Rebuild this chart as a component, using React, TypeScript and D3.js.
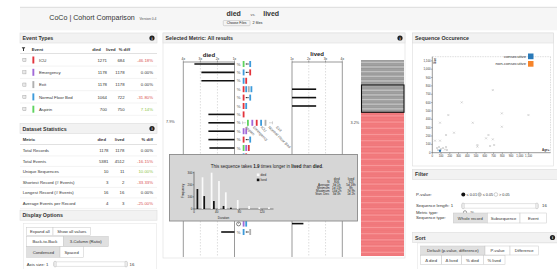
import React from 'react';
import * as d3 from 'd3';

const FONT = 'Liberation Sans, Arial, Helvetica, sans-serif';

// event types table
const eventNames = ['ICU', 'Emergency', 'Exit', 'Normal Floor Bed', 'Aspirin'];
const eventCodes = ['I', 'M', 'X', 'N', 'A'];
const eventColors = ['#e3343c', '#a26ad8', '#b0b0b0', '#3d9bdb', '#5fd35f'];
const eventDied = [1271, 1178, 1178, 1064, 700];
const eventLived = [684, 1178, 1178, 722, 750];
const eventDiff = [-46.18, 0, 0, -31.8, 7.14];

// dataset statistics
const statNames = ['Total Records', 'Total Events', 'Unique Sequences', 'Shortest Record (# Events)', 'Longest Record (# Events)', 'Average Events per Record'];
const statDied = [1178, 5381, 10, 3, 16, 4];
const statLived = [1178, 4512, 11, 2, 16, 3];
const statDiff = [0, -16.15, 10, -33.33, 0, -25];

// selected metric rows (slot = row position in the list)
const seqSlots = [0, 1, 2, 3, 4, 5, 6, 7, 8, 9, 10, 11, 19, 20];
const seqMetric = ['%', '%', '%', '%', '%', '%', '%', '%', '%', '%', '%', 'time', 'time', '%'];
const seqDied = [3.35, 2.94, 2.94, null, null, null, 2.53, 2.53, 2.53, 2.53, 2.47, null, null, 1.78];
const seqLived = [null, null, null, 2.44, 2.44, 2.44, null, null, null, null, null, 1.88, 1.68, null];
const seqGlyphs = [
  ['A', '..', 'N'], ['N', '..', 'I'], ['N', 'I'], ['I', 'N', 'X', 'N'], ['I', '..', 'N'], ['I', 'N'],
  ['I'], ['A', 'M', 'I', 'N', 'X'], ['M', 'M'], ['I', '..', 'N'], ['A', 'M', 'I'], ['N', 'I'], ['M', 'N'], ['N', '..', 'X'],
];
const expandedRow = 7;
const expandedLabels = ['Aspirin', 'Emergency', 'ICU', 'Normal Floor Bed', 'Exit'];
const ratioTicks = [1, 2, 3, 4];

// histogram in tooltip
const histDiedDur = [15, 31, 44, 56, 77, 97, 115, 132];
const histDiedFreq = [262, 300, 231, 138, 74, 25, 14, 14];
const histLivedDur = [6, 18, 35, 52, 65];
const histLivedFreq = [165, 107, 66, 25, 11];
const tipStatNames = ['N', 'Average', 'Minimum', 'Maximum', 'Stan. Dev.'];
const tipStatDied = ['806', '3d 1h', '1d 13h', '14d 2h', '3d 3h'];
const tipStatLived = ['323', '5d 18h', '8h', '7d 9h', '1d 2h'];

// sequence occurrence scatter
const occAge = [31, 88, 88, 157, 183, 248, 336, 462, 515, 515, 614, 641, 660, 691, 691, 706, 794, 794, 1098, 54, 77, 100, 122, 145, 157, 65, 168];
const occSize = [144, 359, 144, 212, 451, 239, 603, 359, 92, 72, 172, 212, 80, 750, 160, 92, 471, 311, 451, 56, 68, 44, 56, 38, 68, 32, 32];
const consecAge = [88];
const consecSize = [24];

const diffColor = (v: number) => (v < 0 ? '#d9534f' : v > 0 ? '#8cc63f' : '#333');
const fmtPct = (v: number) => `${v.toFixed(2)}%`;

function PanelHead({ x, y, w, title, info = false }: any) {
  return (
    <g>
      <rect x={x} y={y} width={w} height={10} fill="#f2f2f2" stroke="#dddddd" strokeWidth={0.6} />
      <text x={x + 2.5} y={y + 7} fontSize={5.3} fontWeight="bold" fill="#333">{title}</text>
      {info && (
        <g>
          <circle cx={x + w - 5} cy={y + 5} r={2.6} fill="#222" />
          <text x={x + w - 5} y={y + 6.6} fontSize={3.8} fill="#fff" fontWeight="bold" textAnchor="middle">i</text>
        </g>
      )}
    </g>
  );
}

function Btn({ x, y, w, h, label, active = false }: any) {
  return (
    <g>
      <rect x={x} y={y} width={w} height={h} fill={active ? '#e0e0e0' : '#fff'} stroke="#c8c8c8" strokeWidth={0.5} />
      <text x={x + w / 2} y={y + h / 2 + 1.5} fontSize={4.2} fill="#333" textAnchor="middle">{label}</text>
    </g>
  );
}

function Glyph({ x, y, tokens, wide }: any) {
  let cx = x;
  const out: any[] = [];
  tokens.forEach((t: string, i: number) => {
    if (t === '..') {
      out.push(<rect key={`a${i}`} x={cx + 0.5} y={y - 0.6} width={1.1} height={1.2} fill="#222" />);
      out.push(<rect key={`b${i}`} x={cx + 2.1} y={y - 0.6} width={1.1} height={1.2} fill="#222" />);
      cx += 4;
    } else {
      const c = eventColors[eventCodes.indexOf(t)];
      out.push(<rect key={i} x={cx} y={y - 3} width={1.8} height={6} fill={c} />);
      cx += wide ? 4.4 : 2.6;
    }
  });
  return <g>{out}</g>;
}

export default function App() {
  const evY = d3.scaleLinear().domain([0, 4]).range([60, 109.2]);
  const stY = d3.scaleLinear().domain([0, 5]).range([150.5, 203]);
  const rowY = d3.scaleLinear().domain([0, 20]).range([64, 232]);
  const diedX = d3.scaleLinear().domain([1, 4]).range([234.5, 183.3]);
  const livedX = d3.scaleLinear().domain([1, 4]).range([292, 342.3]);

  const hx = d3.scaleLinear().domain([0, 140]).range([194, 273.5]);
  const hy = d3.scaleLinear().domain([0, 300]).range([209, 172.7]);

  const sx = d3.scaleLinear().domain([0, 1350]).range([432.3, 550.5]);
  const sy = d3.scaleLinear().domain([0, 1150]).range([152.7, 56.7]);
  const fmtK = d3.format(',');

  const axTop = 62;
  const axBot = 257;

  return (
    <svg width={557} height={269} style={{ position: 'absolute', left: 0, top: 0, fontFamily: FONT, background: '#fff' }}>
      {/* header */}
      <rect x={20} y={7.3} width={540} height={23} fill="#f6f6f6" />
      <line x1={20} x2={557} y1={7.3} y2={7.3} stroke="#cfcfcf" strokeWidth={0.7} />
      <text x={49.3} y={19.6} fontSize={7.6} fill="#333" textLength={85.5} lengthAdjust="spacingAndGlyphs">CoCo | Cohort Comparison</text>
      <text x={139.5} y={19.6} fontSize={3.4} fill="#555">Version 0.4</text>
      <text x={226.5} y={15.5} fontSize={7} fontWeight="bold" fill="#333">died</text>
      <text x={250.5} y={15.5} fontSize={3.8} fill="#555">vs.</text>
      <text x={263.2} y={15.5} fontSize={7} fontWeight="bold" fill="#333">lived</text>
      <rect x={223.3} y={20.5} width={26.7} height={5.2} rx={0.8} fill="#f4f4f4" stroke="#aaa" strokeWidth={0.4} />
      <text x={236.6} y={24.3} fontSize={3.4} textAnchor="middle" fill="#222">Choose Files</text>
      <text x={252.5} y={24.4} fontSize={3.8} fill="#222">2 files</text>

      {/* left panel: event types */}
      <PanelHead x={20} y={33} w={137} title="Event Types" info />
      <path d="M21.7,47.2 L25.3,47.2 L24,49 L24,51 L23,51 L23,49 Z" fill="#333" />
      <text x={31.7} y={50.6} fontSize={4.2} fontWeight="bold" fill="#333">Event</text>
      <text x={92.3} y={50.6} fontSize={4.2} fontWeight="bold" fill="#333">died</text>
      <text x={106} y={50.6} fontSize={4.2} fontWeight="bold" fill="#333">lived</text>
      <text x={118.7} y={50.6} fontSize={4.2} fontWeight="bold" fill="#333">% diff</text>
      <line x1={20} x2={157} y1={53.5} y2={53.5} stroke="#ccc" strokeWidth={0.6} />
      {eventNames.map((n, i) => (
        <g key={n}>
          <rect x={22.8} y={evY(i) - 1.6} width={3.2} height={3.2} fill="#e8e8e8" stroke="#999" strokeWidth={0.4} />
          <rect x={32.4} y={evY(i) - 3.5} width={1.9} height={7} fill={eventColors[i]} />
          <text x={39} y={evY(i) + 1.6} fontSize={4.3} fill="#333">{n}</text>
          <text x={107} y={evY(i) + 1.6} fontSize={4.3} fill="#333" textAnchor="end">{eventDied[i]}</text>
          <text x={124.6} y={evY(i) + 1.6} fontSize={4.3} fill="#333" textAnchor="end">{eventLived[i]}</text>
          <text x={153} y={evY(i) + 1.6} fontSize={4.3} fill={diffColor(eventDiff[i])} textAnchor="end">{fmtPct(eventDiff[i])}</text>
          <line x1={20} x2={157} y1={evY(i) + 6.1} y2={evY(i) + 6.1} stroke="#e6e6e6" strokeWidth={0.5} />
        </g>
      ))}

      {/* dataset statistics */}
      <PanelHead x={20} y={123.5} w={137} title="Dataset Statistics" info />
      <text x={22.7} y={140.7} fontSize={4.2} fontWeight="bold" fill="#333">Metric</text>
      <text x={106} y={140.7} fontSize={4.2} fontWeight="bold" fill="#333" textAnchor="end">died</text>
      <text x={124.4} y={140.7} fontSize={4.2} fontWeight="bold" fill="#333" textAnchor="end">lived</text>
      <text x={153} y={140.7} fontSize={4.2} fontWeight="bold" fill="#333" textAnchor="end">% diff</text>
      <line x1={20} x2={157} y1={144.5} y2={144.5} stroke="#ccc" strokeWidth={0.6} />
      {statNames.map((n, i) => (
        <g key={n}>
          <text x={22.7} y={stY(i) + 1.5} fontSize={4.3} fill="#333">{n}</text>
          <text x={108.5} y={stY(i) + 1.5} fontSize={4.3} fill="#333" textAnchor="end">{statDied[i]}</text>
          <text x={124.4} y={stY(i) + 1.5} fontSize={4.3} fill="#333" textAnchor="end">{statLived[i]}</text>
          <text x={153} y={stY(i) + 1.5} fontSize={4.3} fill={diffColor(statDiff[i])} textAnchor="end">{fmtPct(statDiff[i])}</text>
          <line x1={20} x2={157} y1={stY(i) + 5.4} y2={stY(i) + 5.4} stroke="#e6e6e6" strokeWidth={0.5} />
        </g>
      ))}

      {/* display options */}
      <PanelHead x={20} y={210.2} w={137} title="Display Options" />
      <rect x={23.6} y={223.3} width={133} height={50} fill="none" stroke="#e2e2e2" strokeWidth={0.5} />
      <Btn x={26.7} y={227.3} w={26.3} h={8} label="Expand all" />
      <Btn x={53} y={227.3} w={37.7} h={8} label="Show all values" />
      <Btn x={26.7} y={236.4} w={36.6} h={10.3} label="Back-to-Back" />
      <Btn x={63.3} y={236.4} w={45} h={10.3} label="3-Column (Ratio)" active />
      <Btn x={26.7} y={246.7} w={33.3} h={10.6} label="Condensed" active />
      <Btn x={60} y={246.7} w={23.3} h={10.6} label="Spaced" />
      <text x={26.7} y={265.5} fontSize={4.3} fill="#333">Axis size: 1</text>
      <rect x={53.5} y={261.8} width={74} height={4.6} rx={1.5} fill="#fff" stroke="#c8c8c8" strokeWidth={0.5} />
      <rect x={54} y={261.4} width={2.2} height={5.4} rx={0.6} fill="#f4f4f4" stroke="#aaa" strokeWidth={0.4} />
      <rect x={125} y={261.4} width={2.2} height={5.4} rx={0.6} fill="#f4f4f4" stroke="#aaa" strokeWidth={0.4} />
      <text x={129.5} y={265.5} fontSize={4.3} fill="#333">16</text>

      {/* middle panel */}
      <rect x={163} y={33} width={242} height={225} fill="#fff" stroke="#dddddd" strokeWidth={0.6} />
      <PanelHead x={163} y={33} w={242} title="Selected Metric: All results" info />
      <text x={diedX(2.5)} y={57} fontSize={6} fontWeight="bold" textAnchor="middle" fill="#222">died</text>
      <text x={livedX(2.5)} y={56} fontSize={6} fontWeight="bold" textAnchor="middle" fill="#222">lived</text>
      {ratioTicks.map((t) => (
        <g key={t}>
          <text x={diedX(t)} y={59.6} fontSize={3.3} textAnchor="middle" fill="#333">{`${t}x`}</text>
          <line x1={diedX(t)} x2={diedX(t)} y1={60.4} y2={axTop} stroke="#333" strokeWidth={0.4} />
          <text x={livedX(t)} y={59.6} fontSize={3.3} textAnchor="middle" fill="#333">{`${t}x`}</text>
          <line x1={livedX(t)} x2={livedX(t)} y1={60.4} y2={axTop} stroke="#333" strokeWidth={0.4} />
          {t === 1 || t === 4 ? (
            <>
              <line x1={diedX(t)} x2={diedX(t)} y1={axTop} y2={axBot} stroke="#555" strokeWidth={0.6} />
              <line x1={livedX(t)} x2={livedX(t)} y1={axTop} y2={axBot} stroke="#555" strokeWidth={0.6} />
            </>
          ) : (
            <>
              <line x1={diedX(t)} x2={diedX(t)} y1={axTop} y2={axBot} stroke="#bbb" strokeWidth={0.5} strokeDasharray="1.5,1.5" />
              <line x1={livedX(t)} x2={livedX(t)} y1={axTop} y2={axBot} stroke="#bbb" strokeWidth={0.5} strokeDasharray="1.5,1.5" />
            </>
          )}
        </g>
      ))}
      <line x1={diedX(4)} x2={diedX(1)} y1={axTop} y2={axTop} stroke="#555" strokeWidth={0.6} />
      <line x1={livedX(1)} x2={livedX(4)} y1={axTop} y2={axTop} stroke="#555" strokeWidth={0.6} />

      {seqSlots.map((s, i) => {
        const y = rowY(s);
        const d = seqDied[i];
        const l = seqLived[i];
        return (
          <g key={s}>
            {d != null && <line x1={diedX(d)} x2={diedX(1)} y1={y} y2={y} stroke="#111" strokeWidth={1.6} />}
            {l != null && <line x1={livedX(1)} x2={livedX(l)} y1={y} y2={y} stroke="#111" strokeWidth={1.6} />}
            {seqMetric[i] === '%' ? (
              <text x={238.6} y={y + 1.5} fontSize={4.2} textAnchor="middle" fill="#555">%</text>
            ) : (
              <g>
                <circle cx={238.6} cy={y + 0.3} r={2} fill="none" stroke="#333" strokeWidth={0.6} />
                <line x1={238.6} x2={238.6} y1={y + 0.3} y2={y - 1.1} stroke="#333" strokeWidth={0.5} />
              </g>
            )}
            {s === expandedRow ? (
              <g>
                <line x1={242.5} x2={242.5} y1={y - 1.5} y2={y + 1.5} stroke="#999" strokeWidth={0.4} />
                <line x1={242.5} x2={246} y1={y} y2={y} stroke="#999" strokeWidth={0.4} />
                <Glyph x={247} y={y} tokens={seqGlyphs[i]} wide />
                <line x1={269} x2={272.5} y1={y} y2={y} stroke="#999" strokeWidth={0.4} />
                <line x1={272.5} x2={272.5} y1={y - 1.5} y2={y + 1.5} stroke="#999" strokeWidth={0.4} />
              </g>
            ) : (
              <Glyph x={242.7} y={y} tokens={seqGlyphs[i]} />
            )}
          </g>
        );
      })}
      {expandedLabels.map((n, i) => (
        <text key={n} x={0} y={0} fontSize={3.8} fill="#555" transform={`translate(${245 + i * 7.7},${127.5}) rotate(45)`}>{n}</text>
      ))}
      <text x={166} y={123} fontSize={3.8} fill="#444">7.9%</text>
      <text x={350.5} y={124} fontSize={3.8} fill="#444">3.2%</text>

      {/* stripe column */}
      <rect x={361} y={60} width={43} height={52} fill="#a8a8a8" />
      {d3.range(60.8, 112, 1.55).map((y, i) => (
        <line key={`g${i}`} x1={361} x2={404} y1={y} y2={y} stroke={i % 3 === 1 ? '#e2e2e2' : '#8a8a8a'} strokeWidth={0.5} />
      ))}
      <rect x={361} y={112} width={43} height={144} fill="#f47f82" />
      {d3.range(112.8, 256, 1.55).map((y, i) => (
        <line key={`r${i}`} x1={361} x2={404} y1={y} y2={y} stroke={i % 4 === 2 ? '#fbb' : '#e86a6e'} strokeWidth={0.4} />
      ))}
      <rect x={361.5} y={85} width={42.5} height={27.3} fill="none" stroke="#111" strokeWidth={1.1} />

      {/* tooltip */}
      <rect x={169.5} y={154.5} width={188} height={66.5} fill="#d6d6d6" stroke="#8a8a8a" strokeWidth={0.9} />
      <text x={267} y={168.4} fontSize={4.5} textAnchor="middle" fill="#222">
        This sequence takes <tspan fontWeight="bold">1.9</tspan> times longer in <tspan fontWeight="bold">lived</tspan> than <tspan fontWeight="bold">died</tspan>.
      </text>
      <line x1={hx(0)} x2={hx(0)} y1={hy(300) - 1} y2={hy(0)} stroke="#222" strokeWidth={0.5} />
      <line x1={hx(0)} x2={hx(140)} y1={hy(0)} y2={hy(0)} stroke="#222" strokeWidth={0.5} />
      {[0, 100, 200, 300].map((t) => (
        <g key={t}>
          <line x1={hx(0) - 1.2} x2={hx(0)} y1={hy(t)} y2={hy(t)} stroke="#222" strokeWidth={0.4} />
          <text x={hx(0) - 1.6} y={hy(t) + 1} fontSize={2.9} textAnchor="end" fill="#222">{t}</text>
        </g>
      ))}
      {[0, 40, 80, 120].map((t) => (
        <g key={t}>
          <line x1={hx(t)} x2={hx(t)} y1={hy(0)} y2={hy(0) + 1.2} stroke="#222" strokeWidth={0.4} />
          <text x={hx(t)} y={hy(0) + 4.3} fontSize={2.9} textAnchor="middle" fill="#222">{t}</text>
        </g>
      ))}
      <text x={0} y={0} fontSize={3} textAnchor="middle" fill="#222" transform={`translate(184,${hy(150)}) rotate(-90)`}>Frequency</text>
      <text x={hx(52)} y={218.6} fontSize={3} textAnchor="middle" fill="#222">Duration</text>
      {histDiedDur.map((d, i) => (
        <rect key={`hd${i}`} x={hx(d) - 0.85} y={hy(histDiedFreq[i])} width={1.7} height={hy(0) - hy(histDiedFreq[i])} fill="#fafafa" />
      ))}
      {histLivedDur.map((d, i) => (
        <rect key={`hl${i}`} x={hx(d) - 0.85} y={hy(histLivedFreq[i])} width={1.7} height={hy(0) - hy(histLivedFreq[i])} fill="#111" />
      ))}
      <rect x={256.8} y={173.5} width={2.6} height={2.6} fill="#fafafa" />
      <text x={260.5} y={175.9} fontSize={3} fill="#222">died</text>
      <rect x={256.8} y={178.6} width={2.6} height={2.6} fill="#111" />
      <text x={260.5} y={181} fontSize={3} fill="#222">lived</text>
      <text x={336.7} y={180} fontSize={3.1} textAnchor="middle" fill="#222">died</text>
      <text x={351} y={180} fontSize={3.1} textAnchor="middle" fill="#222">lived</text>
      {tipStatNames.map((n, i) => (
        <g key={n}>
          <text x={329.5} y={183 + i * 3} fontSize={3.1} textAnchor="end" fill="#222">{n}</text>
          <text x={336.7} y={183 + i * 3} fontSize={3.1} textAnchor="middle" fill="#222">{tipStatDied[i]}</text>
          <text x={351} y={183 + i * 3} fontSize={3.1} textAnchor="middle" fill="#222">{tipStatLived[i]}</text>
        </g>
      ))}

      {/* right panel: sequence occurrence */}
      <rect x={412.5} y={33} width={141} height={133} fill="#fff" stroke="#dddddd" strokeWidth={0.6} />
      <PanelHead x={412.5} y={33} w={141} title="Sequence Occurence" />
      <line x1={sx(0)} x2={sx(1350)} y1={sy(1150)} y2={sy(1150)} stroke="#bbb" strokeWidth={0.5} strokeDasharray="1.5,1" />
      <line x1={sx(1350)} x2={sx(1350)} y1={sy(1150)} y2={sy(0)} stroke="#bbb" strokeWidth={0.5} strokeDasharray="1.5,1" />
      <line x1={sx(0)} x2={sx(0)} y1={sy(1150)} y2={sy(0)} stroke="#333" strokeWidth={0.5} />
      <line x1={sx(0)} x2={sx(1350)} y1={sy(0)} y2={sy(0)} stroke="#333" strokeWidth={0.5} />
      {d3.range(0, 1101, 100).map((t) => (
        <g key={t}>
          <line x1={sx(0) - 1.2} x2={sx(0)} y1={sy(t)} y2={sy(t)} stroke="#333" strokeWidth={0.4} />
          <text x={sx(0) - 1.8} y={sy(t) + 1} fontSize={2.8} textAnchor="end" fill="#333">{fmtK(t)}</text>
          <line x1={sx(t)} x2={sx(t)} y1={sy(0)} y2={sy(0) + 1.2} stroke="#333" strokeWidth={0.4} />
          <text x={sx(t)} y={sy(0) + 4.6} fontSize={2.8} textAnchor="middle" fill="#333">{fmtK(t)}</text>
        </g>
      ))}
      <text x={0} y={0} fontSize={3} fontWeight="bold" textAnchor="end" fill="#333" transform={`translate(${sx(0) + 3.5},${sy(1150) + 1}) rotate(-90)`}>Size</text>
      <text x={sx(1350) - 1} y={sy(0) - 1.5} fontSize={3} fontWeight="bold" textAnchor="end" fill="#333">Age+</text>
      <text x={526} y={57.8} fontSize={4.2} textAnchor="end" fill="#333">consecutive</text>
      <rect x={528} y={53.5} width={5.5} height={5.7} fill="#2a7ab9" />
      <text x={526} y={65} fontSize={4.2} textAnchor="end" fill="#333">non-consecutive</text>
      <rect x={528} y={61} width={5.5} height={5.7} fill="#f6842a" />
      {occAge.map((a, i) => (
        <g key={i} stroke="#b5b5b5" strokeWidth={0.5}>
          <line x1={sx(a) - 1} x2={sx(a) + 1} y1={sy(occSize[i]) - 1} y2={sy(occSize[i]) + 1} />
          <line x1={sx(a) - 1} x2={sx(a) + 1} y1={sy(occSize[i]) + 1} y2={sy(occSize[i]) - 1} />
        </g>
      ))}
      {consecAge.map((a, i) => (
        <circle key={i} cx={sx(a)} cy={sy(consecSize[i])} r={1.2} fill="#2a7ab9" />
      ))}

      {/* filter */}
      <PanelHead x={412.5} y={169.3} w={145} title="Filter" />
      <text x={416} y={195.8} fontSize={4.3} fill="#333">P-value:</text>
      <circle cx={463.3} cy={194.5} r={2} fill="#111" />
      <text x={466.5} y={196} fontSize={3.8} fill="#333">≤ 0.01</text>
      <circle cx={479.6} cy={194.5} r={1.8} fill="#ccc" stroke="#888" strokeWidth={0.4} />
      <text x={482.7} y={196} fontSize={3.8} fill="#333">≤ 0.05</text>
      <circle cx={495.9} cy={194.5} r={1.8} fill="#fff" stroke="#888" strokeWidth={0.4} />
      <text x={499} y={196} fontSize={3.8} fill="#333">&gt; 0.05</text>
      <text x={416} y={207.3} fontSize={4.3} fill="#333">Sequence length: 1</text>
      <rect x={461.7} y={203.6} width={76.6} height={4.6} rx={1.5} fill="#fff" stroke="#c8c8c8" strokeWidth={0.5} />
      <rect x={462} y={203.2} width={2.2} height={5.4} rx={0.6} fill="#f4f4f4" stroke="#aaa" strokeWidth={0.4} />
      <rect x={535.8} y={203.2} width={2.2} height={5.4} rx={0.6} fill="#f4f4f4" stroke="#aaa" strokeWidth={0.4} />
      <text x={542} y={207.3} fontSize={4.3} fill="#333">16</text>
      <text x={416} y={213.8} fontSize={4.3} fill="#333">Metric type:</text>
      <circle cx={465} cy={212.3} r={1.6} fill="none" stroke="#444" strokeWidth={0.5} />
      <text x={470.6} y={213.8} fontSize={4} fill="#333">%</text>
      <text x={416} y={219} fontSize={4.3} fill="#333">Sequence type:</text>
      <Btn x={453.3} y={213} w={34} h={10} label="Whole record" active />
      <Btn x={487.3} y={213} w={32.7} h={10} label="Subsequence" />
      <Btn x={520} y={213} w={26.7} h={10} label="Event" />

      {/* sort */}
      <PanelHead x={412.5} y={232.5} w={145} title="Sort" info />
      <rect x={417.3} y={243} width={140} height={30} fill="none" stroke="#e2e2e2" strokeWidth={0.5} />
      <Btn x={420.7} y={246} w={64.3} h={9} label="Default (p-value, difference)" active />
      <Btn x={485} y={246} w={25} h={9} label="P-value" />
      <Btn x={510} y={246} w={28.3} h={9} label="Difference" />
      <Btn x={420.7} y={255.5} w={21} h={9} label="Δ died" />
      <Btn x={441.7} y={255.5} w={20} h={9} label="Δ lived" />
      <Btn x={461.7} y={255.5} w={21.6} h={9} label="% died" />
      <Btn x={483.3} y={255.5} w={21.7} h={9} label="% lived" />
    </svg>
  );
}
